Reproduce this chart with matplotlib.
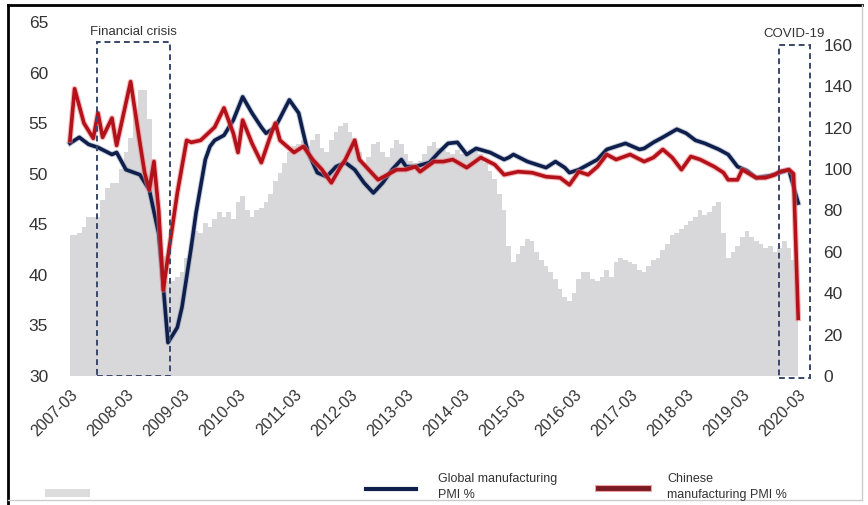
import numpy as np
import pandas as pd
import matplotlib
matplotlib.use('Agg')
import matplotlib.pyplot as plt
from matplotlib.lines import Line2D
from matplotlib.patches import Rectangle
import matplotlib.patheffects as pe

plt.rcParams['font.family'] = ['Liberation Sans', 'DejaVu Sans']

# monthly axis starts 2007-03
start = pd.Period('2007-03', freq='M')
tick_labels = ['%d-03' % y for y in range(2007, 2021)]

# gray area (right axis), one value per month 2007-03 .. 2020-03
gray_vals = [68, 68, 69, 72, 77, 77, 77, 85, 91, 93, 93, 100, 108, 115, 127, 138, 138, 124, 105, 80,
             58, 46, 46, 48, 50, 57, 64, 70, 69, 74, 72, 76, 79, 77, 79, 76, 84, 87, 80, 77,
             80, 81, 84, 88, 94, 98, 103, 108, 111, 112, 114, 111, 114, 117, 110, 108, 114, 118, 121, 122,
             118, 115, 108, 103, 106, 112, 113, 108, 106, 110, 114, 112, 107, 104, 103, 104, 107, 111, 113, 110,
             109, 108, 107, 109, 107, 107, 108, 110, 107, 103, 99, 95, 88, 80, 63, 55, 59, 63, 66, 65,
             60, 56, 53, 50, 47, 42, 38, 36, 40, 47, 50, 50, 47, 46, 48, 51, 48, 55, 57, 56,
             55, 54, 51, 50, 53, 56, 57, 61, 64, 68, 69, 71, 73, 75, 77, 80, 78, 79, 82, 84,
             69, 57, 60, 63, 67, 70, 67, 65, 64, 62, 63, 60, 62, 65, 62, 56, 28]

global_dates = ['2007-03', '2007-05', '2007-07', '2007-09', '2007-12', '2008-01', '2008-03', '2008-06',
                '2008-08', '2008-10', '2008-11', '2008-12', '2009-02', '2009-03', '2009-05', '2009-06',
                '2009-08', '2009-09', '2009-10', '2009-12', '2010-02', '2010-04', '2010-06', '2010-08',
                '2010-09', '2010-11', '2011-02', '2011-04', '2011-05', '2011-06', '2011-08', '2011-10',
                '2011-12', '2012-02', '2012-04', '2012-06', '2012-08', '2012-10', '2012-12', '2013-02',
                '2013-03', '2013-05', '2013-08', '2013-10', '2013-12', '2014-02', '2014-04', '2014-06',
                '2014-09', '2014-12', '2015-01', '2015-02', '2015-05', '2015-07', '2015-09', '2015-11',
                '2016-01', '2016-02', '2016-04', '2016-06', '2016-08', '2016-10', '2017-02', '2017-05',
                '2017-06', '2017-08', '2017-10', '2018-01', '2018-03', '2018-05', '2018-07', '2018-10',
                '2018-12', '2019-02', '2019-04', '2019-06', '2019-09', '2019-11', '2020-01', '2020-03']
global_pmi = [53.0, 53.6, 52.9, 52.6, 51.9, 52.1, 50.4, 49.9,
              48.4, 44.1, 38.8, 33.3, 34.8, 36.8, 42.8, 46.1,
              51.4, 52.7, 53.3, 53.8, 55.3, 57.6, 56.0, 54.6,
              54.0, 54.6, 57.3, 56.0, 54.0, 52.1, 50.1, 49.7,
              50.7, 51.1, 50.4, 49.1, 48.1, 49.1, 50.4, 51.4,
              50.7, 50.7, 51.1, 52.1, 53.0, 53.1, 51.9, 52.5,
              52.1, 51.4, 51.6, 51.9, 51.2, 50.9, 50.6, 51.2,
              50.6, 50.1, 50.4, 50.9, 51.4, 52.4, 53.0, 52.4,
              52.5, 53.1, 53.6, 54.4, 54.0, 53.3, 53.0, 52.4,
              51.9, 50.7, 50.3, 49.6, 49.8, 50.1, 50.4, 47.1]

china_dates = ['2007-03', '2007-04', '2007-06', '2007-08', '2007-09', '2007-10', '2007-12', '2008-01',
               '2008-04', '2008-06', '2008-07', '2008-08', '2008-09', '2008-10', '2008-11', '2008-12',
               '2009-02', '2009-04', '2009-05', '2009-07', '2009-10', '2009-12', '2010-02', '2010-03',
               '2010-04', '2010-06', '2010-08', '2010-10', '2010-11', '2010-12', '2011-03', '2011-05',
               '2011-07', '2011-09', '2011-11', '2012-01', '2012-02', '2012-04', '2012-05', '2012-07',
               '2012-09', '2012-11', '2013-01', '2013-03', '2013-05', '2013-06', '2013-09', '2013-11',
               '2014-01', '2014-04', '2014-07', '2014-10', '2014-12', '2015-03', '2015-06', '2015-09',
               '2015-12', '2016-02', '2016-04', '2016-06', '2016-08', '2016-10', '2016-12', '2017-03',
               '2017-06', '2017-08', '2017-10', '2017-12', '2018-02', '2018-04', '2018-06', '2018-09',
               '2018-11', '2018-12', '2019-02', '2019-03', '2019-06', '2019-08', '2019-10', '2019-11',
               '2020-01', '2020-02', '2020-03']
china_pmi = [53.3, 58.4, 55.0, 53.5, 56.0, 53.6, 55.5, 52.8,
             59.1, 53.0, 50.1, 48.4, 51.2, 46.4, 38.5, 41.8,
             48.1, 53.3, 53.1, 53.3, 54.6, 56.5, 54.0, 52.1,
             55.3, 53.0, 51.1, 53.8, 55.0, 53.3, 52.1, 52.7,
             51.4, 50.4, 49.1, 50.7, 51.4, 53.3, 51.4, 50.4,
             49.4, 49.9, 50.4, 50.4, 50.7, 50.2, 51.2, 51.2,
             51.4, 50.6, 51.6, 50.9, 49.9, 50.2, 50.1, 49.7,
             49.6, 48.9, 50.2, 49.9, 50.7, 51.9, 51.4, 51.9,
             51.2, 51.6, 52.4, 51.6, 50.4, 51.7, 51.4, 50.7,
             50.1, 49.4, 49.4, 50.4, 49.6, 49.6, 49.9, 50.2,
             50.4, 50.0, 35.7]

def month_idx(dates):
    return np.array([(pd.Period(d, freq='M') - start).n for d in dates])

gx = np.arange(len(gray_vals))
W, H = 868, 505
fig = plt.figure(figsize=(W / 100, H / 100), dpi=100)
ax = fig.add_axes([62 / W, (H - 376) / H, (815 - 62) / W, 354 / H])
ax2 = ax.twinx()

ax2.fill_between(gx, 0, gray_vals, step='mid', color='#d8d8da', lw=0, zorder=1)
ax2.set_ylim(0, 171)
ax2.set_yticks(range(0, 161, 20))

ax.set_zorder(ax2.get_zorder() + 1)
ax.patch.set_visible(False)

navy = '#0f1f4b'
red = '#b3121b'
ax.plot(month_idx(global_dates), global_pmi, color=navy, lw=2.6, zorder=3,
        path_effects=[pe.Stroke(linewidth=4.0, foreground='#8d9ab8', alpha=0.5), pe.Normal()])
ax.plot(month_idx(china_dates), china_pmi, color=red, lw=2.6, zorder=4,
        path_effects=[pe.Stroke(linewidth=4.2, foreground='#f08080', alpha=0.55), pe.Normal()])

ax.set_xlim(-1.7, 159.6)
ax.set_ylim(30, 65)
ax.set_yticks(range(30, 66, 5))
ax.set_xticks(range(0, 157, 12))
ax.set_xticklabels(tick_labels, rotation=45, ha='right', rotation_mode='anchor',
                   fontsize=11.5, color='#333333')

for a in (ax, ax2):
    for s in a.spines.values():
        s.set_visible(False)
    a.tick_params(length=0, labelsize=12.5, colors='#333333')
ax.tick_params(axis='y', pad=10)
ax.tick_params(axis='x', pad=8, labelsize=11.5)
ax2.tick_params(axis='y', pad=6)

# dashed boxes
box_kw = dict(fill=False, ls=(0, (3, 2)), lw=1.4, ec='#3a4868', zorder=5)
ax.add_patch(Rectangle((5.8, 30), 21.4 - 5.8, 63.0 - 30, **box_kw))
ax.add_patch(Rectangle((151.9, 29.8), 158.6 - 151.9, 62.7 - 29.8, clip_on=False, **box_kw))
ax.text(13.5, 63.4, 'Financial crisis', ha='center', va='bottom', fontsize=9.5, color='#333333')
ax.text(155.2, 63.2, 'COVID-19', ha='center', va='bottom', fontsize=9.5, color='#333333')

# legend drawn at the bottom
fig.add_artist(Rectangle((45 / W, (H - 497) / H), 45 / W, 8 / H, color='#dcdcdc', lw=0))
fig.add_artist(Line2D([366 / W, 416 / W], [(H - 489) / H] * 2, color=navy, lw=3))
fig.text(438 / W, (H - 487) / H, 'Global manufacturing\nPMI %', fontsize=9, va='center',
         color='#333333', linespacing=1.4)
fig.add_artist(Line2D([598 / W, 648 / W], [(H - 488) / H] * 2, color='#7a1a22', lw=3.5,
                      path_effects=[pe.Stroke(linewidth=5, foreground='#f0a0a0'), pe.Normal()]))
fig.text(667 / W, (H - 487) / H, 'Chinese\nmanufacturing PMI %', fontsize=9, va='center',
         color='#333333', linespacing=1.4)

# frame
fig.add_artist(Line2D([8 / W, 8 / W], [0, (H - 5) / H], color='black', lw=2))
fig.add_artist(Line2D([8 / W, 862 / W], [(H - 5) / H] * 2, color='black', lw=2))
fig.add_artist(Line2D([862 / W, 862 / W], [(H - 500) / H, (H - 5) / H], color='#cccccc', lw=1))
fig.add_artist(Line2D([8 / W, 862 / W], [(H - 500) / H] * 2, color='#cccccc', lw=1))

fig.savefig('out.png', dpi=100)
